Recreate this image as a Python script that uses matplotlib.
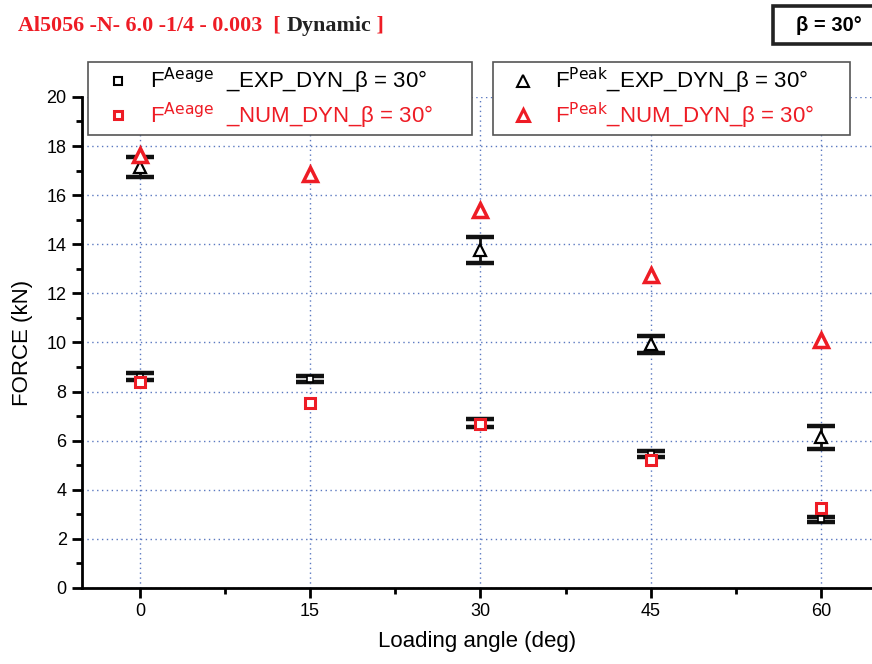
import matplotlib
matplotlib.use("Agg")
import matplotlib.pyplot as plt
from matplotlib.lines import Line2D
from matplotlib.patches import Rectangle
import numpy as np

# Loading angles (deg)
angles = [0, 15, 30, 45, 60]

# Mean crush force (kN)
avg_exp = [8.61, 8.51, 6.73, 5.47, 2.80]
avg_exp_err = [0.14, 0.14, 0.16, 0.12, 0.11]
avg_num = [8.40, 7.55, 6.67, 5.21, 3.25]

# Peak force (kN)
peak_exp = [17.16, 19.10, 13.75, 9.92, 6.13]
peak_exp_err = [0.41, 0.45, 0.53, 0.36, 0.48]
peak_num = [17.64, 16.86, 15.40, 12.75, 10.10]

x_ticks = [0, 15, 30, 45, 60]
y_ticks = [0, 2, 4, 6, 8, 10, 12, 14, 16, 18, 20]

RED = "#ee1c25"
GRID = "#5a78c0"

plt.rcParams["font.family"] = ["Liberation Sans", "DejaVu Sans"]

fig = plt.figure(figsize=(8.72, 6.64), dpi=100)
ax = fig.add_axes([0.094, 0.1145, 0.906, 0.7395])

ax.set_xlim(-5.1, 64.5)
ax.set_ylim(0, 20)

for s in ("top", "right"):
    ax.spines[s].set_visible(False)
for s in ("left", "bottom"):
    ax.spines[s].set_linewidth(2)

ax.set_xticks(x_ticks)
ax.set_yticks(y_ticks)
ax.set_xticks([7.5, 22.5, 37.5, 52.5], minor=True)
ax.set_yticks(np.arange(1, 20, 2), minor=True)
ax.tick_params(which="major", direction="out", length=7, width=2, labelsize=13, pad=4)
ax.tick_params(which="minor", direction="out", length=4, width=2)
ax.grid(True, which="major", linestyle=(0, (1, 2.5)), color=GRID, linewidth=1.0)
ax.set_axisbelow(True)

ax.set_xlabel("Loading angle (deg)", fontsize=16, labelpad=8)
ax.set_ylabel("FORCE (kN)", fontsize=16, labelpad=10)

# Experimental scatter: thick caps, thin stems
eb_kw = dict(fmt="none", ecolor="#111111", elinewidth=2.0, capsize=10, capthick=3.2, zorder=3)
ax.errorbar(angles, avg_exp, yerr=avg_exp_err, **eb_kw)
ax.errorbar(angles, peak_exp, yerr=peak_exp_err, **eb_kw)
ax.plot(angles, avg_exp, "s", markersize=4, markerfacecolor="white",
        markeredgecolor="black", markeredgewidth=1.2, zorder=3.5)
ax.plot(angles, peak_exp, "^", markersize=9, markerfacecolor="white",
        markeredgecolor="black", markeredgewidth=1.6, zorder=3.5)

# Numerical predictions
ax.plot(angles, avg_num, "s", markersize=6.5, markerfacecolor="white",
        markeredgecolor=RED, markeredgewidth=2.2, zorder=4, clip_on=False)
ax.plot(angles, peak_num, "^", markersize=10, markerfacecolor="white",
        markeredgecolor=RED, markeredgewidth=2.5, zorder=4, clip_on=False)

# Legends
h_avg_exp = Line2D([], [], marker="s", linestyle="none", markersize=6,
                   markerfacecolor="white", markeredgecolor="black", markeredgewidth=1.5)
h_avg_num = Line2D([], [], marker="s", linestyle="none", markersize=6,
                   markerfacecolor="white", markeredgecolor=RED, markeredgewidth=2.2)
h_pk_exp = Line2D([], [], marker="^", linestyle="none", markersize=9,
                  markerfacecolor="white", markeredgecolor="black", markeredgewidth=1.5)
h_pk_num = Line2D([], [], marker="^", linestyle="none", markersize=9,
                  markerfacecolor="white", markeredgecolor=RED, markeredgewidth=2.2)

leg_kw = dict(fontsize=16, frameon=True, fancybox=False, framealpha=1,
              edgecolor="#555555", handlelength=2.3, handletextpad=0.3,
              borderpad=0.2, labelspacing=0.2, borderaxespad=0, mode="expand")

leg1 = fig.legend([h_avg_exp, h_avg_num],
                  ["F$^{\\mathrm{Aeage}}$  _EXP_DYN_\u03b2 = 30\u00b0",
                   "F$^{\\mathrm{Aeage}}$  _NUM_DYN_\u03b2 = 30\u00b0"],
                  loc="upper left", bbox_to_anchor=(0.101, 0.907, 0.44, 0.0), **leg_kw)
leg1.get_frame().set_linewidth(1.2)
leg1.get_texts()[1].set_color(RED)

leg2 = fig.legend([h_pk_exp, h_pk_num],
                  ["F$^{\\mathrm{Peak}}$_EXP_DYN_\u03b2 = 30\u00b0",
                   "F$^{\\mathrm{Peak}}$_NUM_DYN_\u03b2 = 30\u00b0"],
                  loc="upper left", bbox_to_anchor=(0.565, 0.907, 0.41, 0.0), **leg_kw)
leg2.get_frame().set_linewidth(1.2)
leg2.get_texts()[1].set_color(RED)

# Title
serif = ["Liberation Serif", "DejaVu Serif"]
ty = 0.961
tsize = 15.8
t1 = fig.text(0.021, ty, "Al5056 -N- 6.0 -1/4 - 0.003  [ ", color=RED,
              fontsize=tsize, fontweight="bold", family=serif, va="center", ha="left")
fig.canvas.draw()
renderer = fig.canvas.get_renderer()
x1 = t1.get_window_extent(renderer).x1 / fig.bbox.width
t2 = fig.text(x1, ty, "Dynamic", color="#222222", fontsize=tsize, fontweight="bold",
              family=serif, va="center", ha="left")
x2 = t2.get_window_extent(renderer).x1 / fig.bbox.width
fig.text(x2, ty, " ]", color=RED, fontsize=tsize, fontweight="bold",
         family=serif, va="center", ha="left")

# Angle box
fig.patches.append(Rectangle((0.886, 0.933), 0.13, 0.058, transform=fig.transFigure,
                             facecolor="white", edgecolor="#222222", linewidth=2.6,
                             clip_on=False))
fig.text(0.950, 0.962, "\u03b2 = 30\u00b0", fontsize=14.5, fontweight="bold",
         ha="center", va="center")

fig.savefig("out.png", dpi=100)
